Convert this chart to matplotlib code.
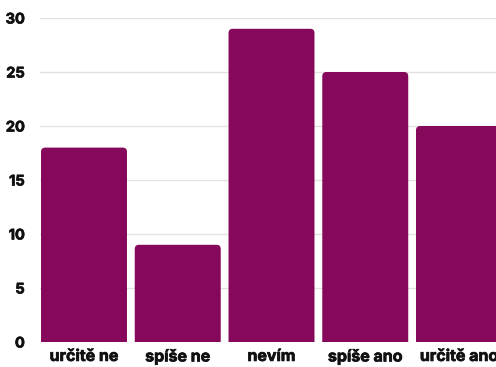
import matplotlib.pyplot as plt
import matplotlib.patheffects as pe
from matplotlib.patches import FancyBboxPatch

categories = ["určitě ne", "spíše ne", "nevím", "spíše ano", "určitě ano"]
counts = [18, 9, 29, 25, 20]
yticks = [0, 5, 10, 15, 20, 25, 30]

bar_color = "#86085a"
W, H = 496, 367

fig = plt.figure(figsize=(W / 100, H / 100), dpi=100)
left, right, top, bottom = 40, 496, 18, 342
ax = fig.add_axes([left / W, (H - bottom) / H, (right - left) / W, (bottom - top) / H])

# last bar runs off the right edge
pitch = 93.75
x0 = 84
ax.set_xlim((left - x0) / pitch, (right - x0) / pitch)
ax.set_ylim(0, 30)

px_y = (bottom - top) / 30
width = 0.917
for i, v in enumerate(counts):
    # start below zero so only the top corners show rounding
    p = FancyBboxPatch((i - width / 2, -1), width, v + 1,
                       boxstyle="round,pad=0,rounding_size=0.045",
                       mutation_aspect=pitch / px_y,
                       facecolor=bar_color, edgecolor="none", zorder=3)
    ax.add_patch(p)

ax.set_xticks(range(len(categories)))
ax.set_xticklabels(categories)
ax.set_yticks(yticks)
heavy = [pe.withStroke(linewidth=0.5, foreground="#111111")]
for lab in ax.get_xticklabels():
    lab.set(fontfamily="Inter", fontweight="bold", fontsize=11.5, color="#111111", path_effects=heavy)
for lab in ax.get_yticklabels():
    lab.set(fontfamily="Inter", fontweight="bold", fontsize=10.5, color="#111111", path_effects=heavy)
ax.tick_params(axis="both", length=0)
ax.tick_params(axis="y", pad=11)
ax.tick_params(axis="x", pad=5)

ax.grid(axis="y", color="#e2e2e2", linewidth=1, zorder=0)
for s in ax.spines.values():
    s.set_visible(False)

fig.savefig("out.png", dpi=100)
